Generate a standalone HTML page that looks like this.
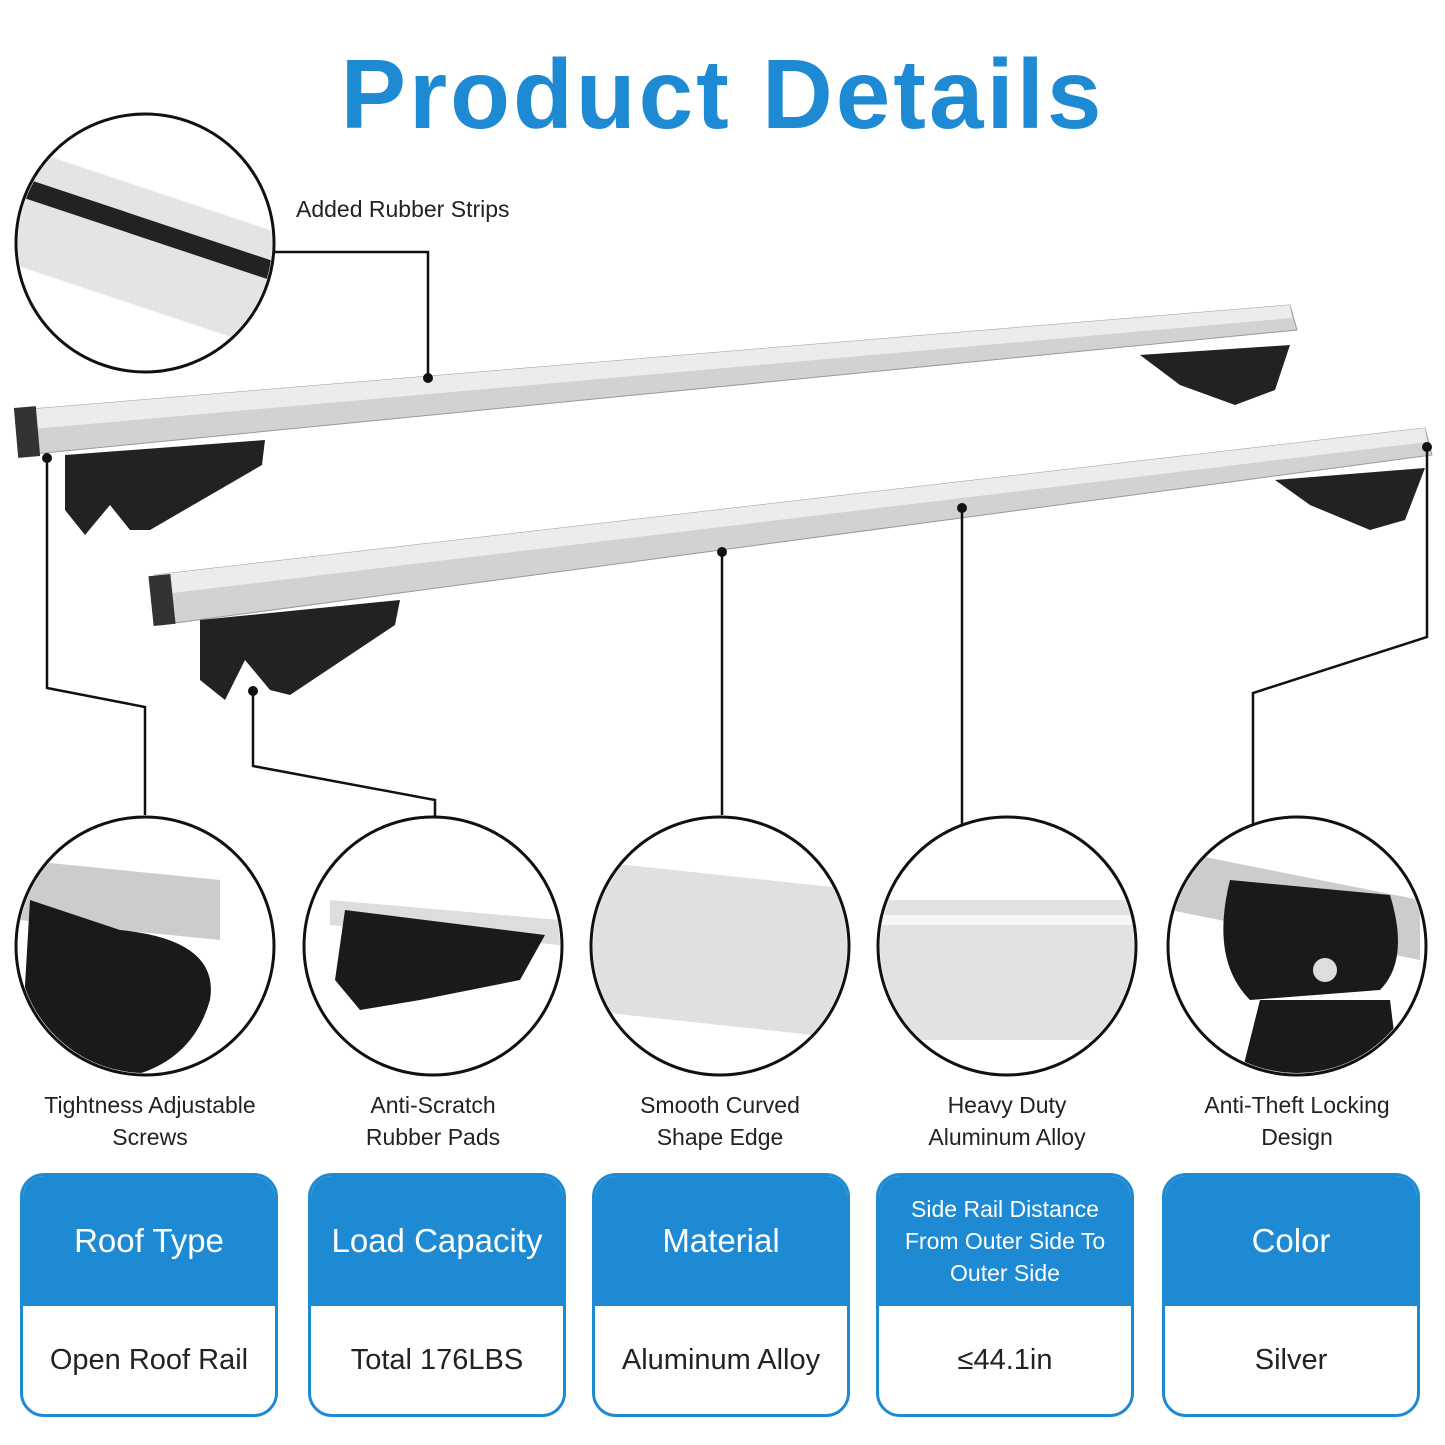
<!DOCTYPE html>
<html><head><style>
body{margin:0;width:1445px;height:1445px;background:#fff;position:relative;overflow:hidden;font-family:"Liberation Sans",sans-serif;}
.t{position:absolute;color:#222;font-size:23px;text-align:center;line-height:32px}
.box{position:absolute;top:1173px;width:252px;height:238px;border:3px solid #1e8ad3;border-radius:24px;overflow:hidden;background:#fff}
.box .h{height:130px;background:#1e8ad3;color:#fff;display:flex;align-items:center;justify-content:center;text-align:center;font-size:33px}
.box .v{height:108px;display:flex;align-items:center;justify-content:center;font-size:29px;color:#222}
</style></head><body>
<div style="position:absolute;top:38px;left:0;width:1445px;text-align:center;font-size:98px;font-weight:bold;color:#1e8ad3;letter-spacing:3px">Product Details</div>
<svg width="1445" height="1445" style="position:absolute;left:0;top:0">
<polygon points="20,410 1290,305 1297,330 24,455" fill="#d2d2d2" stroke="#999" stroke-width="1"/>
<polygon points="20,410 1290,305 1292,318 21,430" fill="#ececec"/>
<rect x="16" y="407" width="22" height="50" fill="#333" transform="rotate(-5 27 432)"/>
<path d="M65,455 L265,440 L262,465 L150,530 L130,530 L110,505 L85,535 L65,510Z" fill="#222"/>
<path d="M1140,355 L1290,345 L1275,390 L1235,405 L1180,385Z" fill="#222"/>
<polygon points="155,575 1425,428 1432,455 160,625" fill="#d2d2d2" stroke="#999"/>
<polygon points="155,575 1425,428 1427,442 156,595" fill="#ececec"/>
<rect x="151" y="575" width="22" height="50" fill="#333" transform="rotate(-6 162 600)"/>
<path d="M200,620 L400,600 L395,625 L290,695 L270,690 L245,660 L225,700 L200,680Z" fill="#222"/>
<path d="M1275,480 L1425,468 L1405,520 L1370,530 L1310,505Z" fill="#222"/>
<g fill="#fff" stroke="#111" stroke-width="3">
<circle cx="145" cy="243" r="129"/>
<circle cx="145" cy="946" r="129"/><circle cx="433" cy="946" r="129"/><circle cx="720" cy="946" r="129"/><circle cx="1007" cy="946" r="129"/><circle cx="1297" cy="946" r="129"/>
</g>
<clipPath id="c0"><circle cx="145" cy="243" r="127"/></clipPath>
<g clip-path="url(#c0)"><polygon points="0,140 300,240 300,360 0,260" fill="#e4e4e4"/><polygon points="0,170 300,270 300,290 0,190" fill="#222"/></g>
<clipPath id="c3"><circle cx="720" cy="946" r="127"/></clipPath>
<g clip-path="url(#c3)"><polygon points="580,860 860,890 860,1040 580,1010" fill="#e0e0e0"/></g>
<clipPath id="c4"><circle cx="1007" cy="946" r="127"/></clipPath>
<g clip-path="url(#c4)"><rect x="870" y="900" width="280" height="140" fill="#e2e2e2"/><rect x="870" y="915" width="280" height="10" fill="#f6f6f6"/></g>
<clipPath id="c1"><circle cx="145" cy="946" r="127"/></clipPath>
<g clip-path="url(#c1)"><polygon points="20,860 220,880 220,940 20,920" fill="#ccc"/><path d="M30,900 L120,930 Q220,940 210,1000 Q190,1070 110,1080 L20,1070Z" fill="#1a1a1a"/></g>
<clipPath id="c2"><circle cx="433" cy="946" r="127"/></clipPath>
<g clip-path="url(#c2)"><polygon points="330,900 560,920 560,945 330,925" fill="#ddd"/><path d="M345,910 L545,935 L520,980 L420,1000 L360,1010 L335,980Z" fill="#1a1a1a"/></g>
<clipPath id="c5"><circle cx="1297" cy="946" r="127"/></clipPath>
<g clip-path="url(#c5)"><polygon points="1170,850 1420,900 1420,960 1170,910" fill="#ccc"/><path d="M1230,880 L1390,895 Q1410,960 1380,990 L1250,1000 Q1210,960 1230,880Z" fill="#1a1a1a"/><path d="M1260,1000 L1390,1000 L1400,1080 L1240,1080Z" fill="#1a1a1a"/><circle cx="1325" cy="970" r="12" fill="#ddd"/></g>
<g fill="none" stroke="#111" stroke-width="2.5">
<polyline points="275,252 428,252 428,378"/>
<polyline points="47,458 47,688 145,707 145,815"/>
<polyline points="253,691 253,766 435,800 435,817"/>
<polyline points="722,552 722,815"/>
<polyline points="962,508 962,825"/>
<polyline points="1427,447 1427,637 1253,693 1253,825"/>
</g>
<g fill="#111"><circle cx="428" cy="378" r="5"/><circle cx="47" cy="458" r="5"/><circle cx="253" cy="691" r="5"/><circle cx="722" cy="552" r="5"/><circle cx="962" cy="508" r="5"/><circle cx="1427" cy="447" r="5"/></g>
</svg>
<div class="t" style="left:296px;top:193px;text-align:left">Added Rubber Strips</div>
<div class="t" style="left:0;width:300px;top:1089px">Tightness Adjustable<br>Screws</div>
<div class="t" style="left:283px;width:300px;top:1089px">Anti-Scratch<br>Rubber Pads</div>
<div class="t" style="left:570px;width:300px;top:1089px">Smooth Curved<br>Shape Edge</div>
<div class="t" style="left:857px;width:300px;top:1089px">Heavy Duty<br>Aluminum Alloy</div>
<div class="t" style="left:1147px;width:300px;top:1089px">Anti-Theft Locking<br>Design</div>
<div class="box" style="left:20px"><div class="h">Roof Type</div><div class="v">Open Roof Rail</div></div>
<div class="box" style="left:308px"><div class="h">Load Capacity</div><div class="v">Total 176LBS</div></div>
<div class="box" style="left:592px"><div class="h">Material</div><div class="v">Aluminum Alloy</div></div>
<div class="box" style="left:876px"><div class="h" style="font-size:23px;line-height:32px">Side Rail Distance<br>From Outer Side To<br>Outer Side</div><div class="v">≤44.1in</div></div>
<div class="box" style="left:1162px"><div class="h">Color</div><div class="v">Silver</div></div>
</body></html>
